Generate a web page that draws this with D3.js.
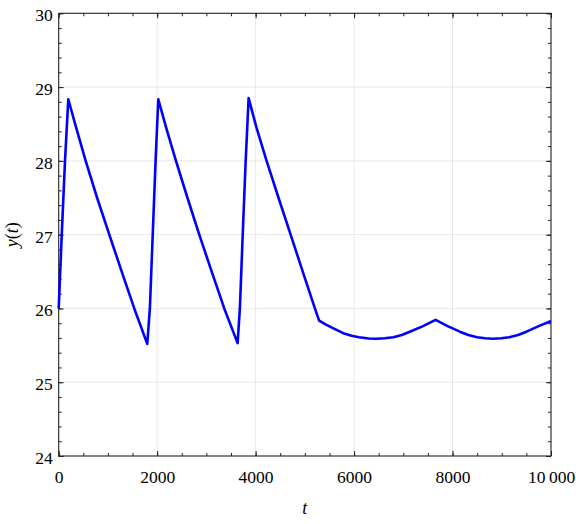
<!DOCTYPE html>
<html>
<head>
<meta charset="utf-8">
<script src="https://cdn.jsdelivr.net/npm/d3@7"></script>
<style>
  body { margin: 0; background: #fff; }
  svg { display: block; }
</style>
</head>
<body>
<div id="container"></div>
<script>

// <---------data-------->
let tValues = [
  0, 62, 128, 195,
  350, 548, 780, 1028, 1280, 1535, 1799,
  1852, 1910, 1968, 2023,
  2178, 2382, 2615, 2855, 3108, 3363, 3634,
  3680, 3738, 3798, 3858,
  4013, 4223, 4465, 4711, 4957, 5204, 5290,
  5420, 5550, 5779, 5950, 6100, 6300, 6457, 6620, 6800, 6970, 7133, 7400, 7655,
  7900, 8148, 8320, 8500, 8660, 8825, 8990, 9150, 9330, 9503, 9750, 10000
];
let yValues = [
  26.0, 27.0, 28.0, 28.835,
  28.46, 28.0, 27.5, 27.0, 26.5, 26.0, 25.52,
  26.0, 27.0, 28.0, 28.835,
  28.46, 28.0, 27.5, 27.0, 26.5, 26.0, 25.53,
  26.0, 27.0, 28.0, 28.85,
  28.46, 28.0, 27.5, 27.0, 26.5, 26.0, 25.835,
  25.785, 25.74, 25.665, 25.63, 25.61, 25.593, 25.59, 25.595, 25.61, 25.64, 25.685, 25.76, 25.845,
  25.76, 25.685, 25.64, 25.61, 25.595, 25.59, 25.595, 25.61, 25.64, 25.685, 25.76, 25.83
];

let xTicks = [0, 2000, 4000, 6000, 8000, 10000];
let xMinorTicks = d3.range(0, 10001, 500);
let yTicks = [24, 25, 26, 27, 28, 29, 30];
let yMinorTicks = d3.range(24, 30.001, 0.2);

// <---------the canvas is here-------->
let w = 576;
let h = 524;
let plotLeft = 58.7;
let plotRight = 551;
let plotTop = 13.3;
let plotBottom = 456;
let serif = "Liberation Serif, DejaVu Serif";

let viz = d3.select("#container")
  .append("svg")
    .attr("width", w)
    .attr("height", h)
    .style("background-color", "#ffffff")
;

let xScale = d3.scaleLinear().domain([0, 10000]).range([plotLeft, plotRight]);
let yScale = d3.scaleLinear().domain([24, 30]).range([plotBottom, plotTop]);

// grid
viz.append("g")
  .selectAll("line")
  .data(xTicks.slice(1, -1)).enter()
  .append("line")
    .attr("x1", d => xScale(d))
    .attr("x2", d => xScale(d))
    .attr("y1", plotTop)
    .attr("y2", plotBottom)
    .attr("stroke", "#e8e8e8")
    .attr("stroke-width", 1)
;
viz.append("g")
  .selectAll("line")
  .data(yTicks.slice(1, -1)).enter()
  .append("line")
    .attr("x1", plotLeft)
    .attr("x2", plotRight)
    .attr("y1", d => yScale(d))
    .attr("y2", d => yScale(d))
    .attr("stroke", "#e8e8e8")
    .attr("stroke-width", 1)
;

// <---------axes, ticks pointing inside-------->
function fmtX(d){
  if (d >= 10000){
    return "10\u2009000";
  }
  return d;
}

function styleAxis(g){
  g.attr("font-family", serif).attr("font-size", null);
  g.select(".domain").remove();
  g.selectAll(".tick line").attr("stroke", "#222").attr("stroke-width", 1);
  g.selectAll("text")
    .attr("font-family", serif)
    .style("font-size", "17.5px")
    .attr("fill", "#000");
}

viz.append("g")
  .attr("transform", "translate(0," + plotBottom + ")")
  .call(d3.axisBottom(xScale).tickValues(xTicks).tickSize(-5).tickPadding(15).tickFormat(fmtX))
  .call(styleAxis);

viz.append("g")
  .attr("transform", "translate(0," + plotBottom + ")")
  .call(d3.axisBottom(xScale).tickValues(xMinorTicks).tickSize(-3).tickFormat(""))
  .call(styleAxis);

viz.append("g")
  .attr("transform", "translate(0," + plotTop + ")")
  .call(d3.axisTop(xScale).tickValues(xTicks).tickSize(-5).tickFormat(""))
  .call(styleAxis);

viz.append("g")
  .attr("transform", "translate(0," + plotTop + ")")
  .call(d3.axisTop(xScale).tickValues(xMinorTicks).tickSize(-3).tickFormat(""))
  .call(styleAxis);

let yAxis = viz.append("g")
  .attr("transform", "translate(" + plotLeft + ",0)")
  .call(d3.axisLeft(yScale).tickValues(yTicks).tickSize(-5).tickPadding(6).tickFormat(d3.format("d")))
  .call(styleAxis);
yAxis.selectAll("text").attr("dy", "0.42em");

viz.append("g")
  .attr("transform", "translate(" + plotLeft + ",0)")
  .call(d3.axisLeft(yScale).tickValues(yMinorTicks).tickSize(-3).tickFormat(""))
  .call(styleAxis);

viz.append("g")
  .attr("transform", "translate(" + plotRight + ",0)")
  .call(d3.axisRight(yScale).tickValues(yTicks).tickSize(-5).tickFormat(""))
  .call(styleAxis);

viz.append("g")
  .attr("transform", "translate(" + plotRight + ",0)")
  .call(d3.axisRight(yScale).tickValues(yMinorTicks).tickSize(-3).tickFormat(""))
  .call(styleAxis);

// frame
viz.append("rect")
  .attr("x", plotLeft)
  .attr("y", plotTop)
  .attr("width", plotRight - plotLeft)
  .attr("height", plotBottom - plotTop)
  .attr("fill", "none")
  .attr("stroke", "#222")
  .attr("stroke-width", 1.1)
;

// <---------the line-------->
let points = tValues.map((t, i) => [t, yValues[i]]);

let lineMaker = d3.line()
  .x(d => xScale(d[0]))
  .y(d => yScale(d[1]));

viz.append("path")
  .datum(points)
  .attr("d", lineMaker)
  .attr("fill", "none")
  .attr("stroke", "#0000ff")
  .attr("stroke-width", 2.6)
  .attr("stroke-linejoin", "round")
;

// <---------labels-------->
viz.append("text")
  .attr("x", (plotLeft + plotRight) / 2)
  .attr("y", 514)
  .attr("text-anchor", "middle")
  .attr("font-family", serif)
  .style("font-size", "18px")
  .style("font-style", "italic")
  .text("t")
;

let yLabel = viz.append("text")
  .attr("transform", "translate(18," + ((plotTop + plotBottom) / 2) + ") rotate(-90)")
  .attr("text-anchor", "middle")
  .attr("font-family", serif)
  .style("font-size", "18px");
yLabel.append("tspan").style("font-style", "italic").text("y");
yLabel.append("tspan").text("(");
yLabel.append("tspan").style("font-style", "italic").text("t");
yLabel.append("tspan").text(")");

</script>
</body>
</html>
